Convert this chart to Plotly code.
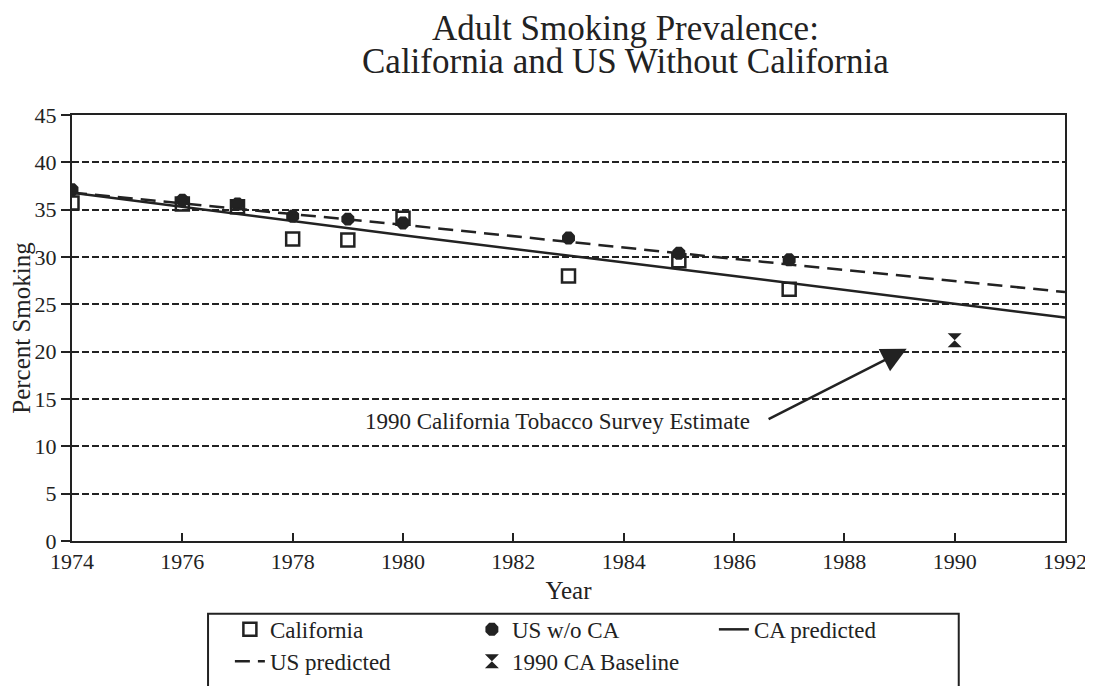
import plotly.graph_objects as go

# ---- data ----
years_obs = [1974, 1976, 1977, 1978, 1979, 1980, 1983, 1985, 1987]
california = [35.7, 35.6, 35.3, 31.9, 31.8, 34.1, 28.0, 29.6, 26.6]
us_wo_ca = [37.1, 36.0, 35.6, 34.3, 34.0, 33.6, 32.0, 30.4, 29.7]

years_pred = [1974, 1980, 1986, 1992]
ca_predicted = [36.8, 32.3, 28.0, 23.6]
us_predicted = [36.8, 33.4, 29.8, 26.3]

baseline_year = [1990]
baseline_val = [21.2]

x_ticks = [1974, 1976, 1978, 1980, 1982, 1984, 1986, 1988, 1990, 1992]
y_ticks = [0, 5, 10, 15, 20, 25, 30, 35, 40, 45]

SERIF = "Liberation Serif, Times New Roman, serif"
INK = "#222"

fig = go.Figure()
fig.add_trace(go.Scatter(x=years_obs, y=california, mode="markers", name="California",
                         legend="legend",
                         marker=dict(symbol="square-open", size=13, color=INK,
                                     line=dict(width=2.5, color=INK))))
fig.add_trace(go.Scatter(x=years_obs, y=us_wo_ca, mode="markers", name="US w/o CA",
                         legend="legend",
                         marker=dict(symbol="octagon", size=14, color=INK)))
fig.add_trace(go.Scatter(x=years_pred, y=ca_predicted, mode="lines", name="CA predicted",
                         legend="legend",
                         line=dict(color=INK, width=2.5)))
fig.add_trace(go.Scatter(x=years_pred, y=us_predicted, mode="lines", name="US predicted",
                         legend="legend2",
                         line=dict(color=INK, width=2.5, dash="15px,8px")))
fig.add_trace(go.Scatter(x=baseline_year, y=baseline_val, mode="markers", name="1990 CA Baseline",
                         legend="legend2",
                         marker=dict(symbol="hourglass", size=14, color=INK)))

leg_common = dict(orientation="h", xanchor="left", yanchor="top", borderwidth=0,
                  bgcolor="rgba(0,0,0,0)", font=dict(size=23, family=SERIF, color=INK),
                  entrywidth=197, traceorder="normal")

# the page adds an 8px body margin, so the figure is shifted by 8px;
# the figure is a bit taller than the window so the legend frame runs off the bottom
fig.update_layout(
    width=1085, height=700,
    margin=dict(l=64, r=28, t=107, b=167),
    paper_bgcolor="white", plot_bgcolor="white",
    font=dict(family=SERIF, color=INK),
    showlegend=True,
    legend=dict(x=0.159, y=-0.157, **leg_common),
    legend2=dict(x=0.159, y=-0.232, **leg_common),
    xaxis=dict(range=[1974, 1992], tickvals=x_ticks, ticks="inside", ticklen=8,
               tickwidth=2, tickcolor=INK, showline=True, linecolor=INK,
               linewidth=2, mirror=True, showgrid=False, zeroline=False,
               automargin=False,
               tickfont=dict(size=22, family=SERIF),
               title=dict(text="Year", font=dict(size=25, family=SERIF), standoff=8)),
    yaxis=dict(range=[0, 45], tickvals=y_ticks, ticks="outside", ticklen=9,
               tickwidth=2, tickcolor=INK, showline=True, linecolor=INK,
               linewidth=2, mirror=True, showgrid=True, gridcolor=INK,
               gridwidth=2, griddash="7px,3px", zeroline=False,
               automargin=False,
               tickfont=dict(size=22, family=SERIF),
               title=dict(text="Percent Smoking", font=dict(size=25, family=SERIF), standoff=4)),
)

# legend frame (single box around both legend rows)
fig.add_shape(type="rect", xref="paper", yref="paper",
              x0=0.137, x1=0.893, y0=-0.171, y1=-0.40,
              line=dict(color=INK, width=2), fillcolor="rgba(0,0,0,0)", layer="above")

fig.add_annotation(text="Adult Smoking Prevalence:", xref="paper", yref="paper",
                   x=0.557, y=1.204, xanchor="center", yanchor="middle", showarrow=False,
                   font=dict(size=35, family=SERIF, color=INK))
fig.add_annotation(text="California and US Without California", xref="paper", yref="paper",
                   x=0.557, y=1.126, xanchor="center", yanchor="middle", showarrow=False,
                   font=dict(size=35, family=SERIF, color=INK))

fig.add_annotation(text="1990 California Tobacco Survey Estimate", xref="x", yref="y",
                   x=1982.8, y=12.6, xanchor="center", yanchor="middle", showarrow=False,
                   font=dict(size=23, family=SERIF, color=INK))
fig.add_annotation(text="", xref="x", yref="y", axref="x", ayref="y",
                   x=1989.13, y=20.3, ax=1986.6, ay=12.8, showarrow=True,
                   arrowhead=2, arrowsize=2, arrowwidth=2.5, arrowcolor=INK)

fig.write_html("out.html")
